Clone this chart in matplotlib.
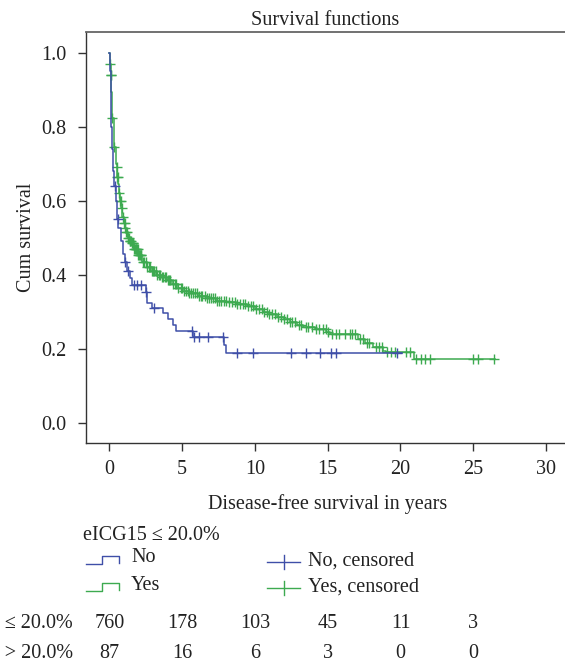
import numpy as np
import matplotlib.pyplot as plt
import matplotlib.transforms as mtransforms
from matplotlib.lines import Line2D

plt.rcParams['font.family'] = ['Liberation Serif', 'DejaVu Serif']
plt.rcParams['font.size'] = 14.5
FS = 14.5

# Kaplan-Meier steps (time in years, survival after the step)
no_times = [0, 0.05, 0.1, 0.15, 0.2, 0.28, 0.35, 0.45, 0.55, 0.62, 0.8, 0.95, 1.05,
            1.25, 1.4, 1.55, 2.5, 2.6, 2.9, 3.7, 4.0, 4.4, 4.6, 5.75, 7.85, 8.0, 20.1]
no_surv = [1.0, 0.95, 0.88, 0.80, 0.74, 0.68, 0.64, 0.60, 0.55, 0.526, 0.49, 0.455, 0.434,
           0.41, 0.39, 0.372, 0.353, 0.323, 0.31, 0.296, 0.28, 0.264, 0.248, 0.232, 0.21,
           0.1875, 0.1875]
no_censored = [0.38, 0.6, 1.1, 1.27, 1.68, 1.9, 2.2, 2.55, 3.1, 5.7, 5.8, 6.15, 6.75, 7.8,
               8.8, 9.9, 12.5, 13.5, 14.5, 15.2, 15.55, 19.75]

yes_times = [0, 0.03, 0.06, 0.1, 0.15, 0.22, 0.33, 0.45, 0.5, 0.55, 0.62, 0.68, 0.75, 0.82,
             0.9, 1.0, 1.1, 1.18, 1.3, 1.4, 1.52, 1.7, 1.97, 2.25, 2.56, 2.9, 3.24, 3.6,
             3.93, 4.3, 4.7, 5.1, 5.5, 6.1, 6.68, 7.3, 8.05, 8.7, 9.43, 10.0, 10.55, 11.0,
             11.5, 12.0, 12.4, 12.9, 13.3, 14.1, 14.9, 15.15, 17.1, 17.56, 18.1, 18.8,
             19.0, 20.95, 26.5]
yes_surv = [1.0, 0.985, 0.97, 0.94, 0.895, 0.824, 0.746, 0.70, 0.69, 0.665, 0.645, 0.62,
            0.60, 0.58, 0.556, 0.54, 0.525, 0.515, 0.50, 0.49, 0.485, 0.47, 0.453, 0.435,
            0.42, 0.41, 0.40, 0.393, 0.386, 0.375, 0.364, 0.357, 0.35, 0.343, 0.337, 0.33,
            0.325, 0.32, 0.314, 0.307, 0.30, 0.293, 0.285, 0.279, 0.273, 0.265, 0.258,
            0.252, 0.246, 0.24, 0.226, 0.215, 0.205, 0.195, 0.192, 0.171, 0.171]
yes_censored = [0.08, 0.1, 0.14, 0.22, 0.33, 0.5, 0.55, 0.6, 0.68, 0.75, 0.8, 0.88, 0.95,
                1.0, 1.05, 1.1, 1.18, 1.25, 1.3, 1.34, 1.4, 1.45, 1.5, 1.55, 1.6, 1.65, 1.7,
                1.75, 1.8, 1.85, 1.9, 1.95, 2.0, 2.05, 2.1, 2.15, 2.2, 2.3, 2.4, 2.5, 2.6,
                2.7, 2.8, 2.9, 3.0, 3.1, 3.2, 3.3, 3.4, 3.5, 3.6, 3.7, 3.8, 3.9, 4.0, 4.1,
                4.2, 4.35, 4.5, 4.6, 4.75, 4.9, 5.0, 5.1, 5.25, 5.4, 5.5, 5.6, 5.75, 5.9,
                6.0, 6.15, 6.3, 6.4, 6.55, 6.7, 6.85, 7.0, 7.1, 7.25, 7.4, 7.55, 7.7, 7.85,
                8.0, 8.2, 8.4, 8.6, 8.8, 9.0, 9.15, 9.35, 9.5, 9.7, 9.9, 10.1, 10.3, 10.5,
                10.65, 10.85, 11.0, 11.2, 11.4, 11.6, 11.8, 12.0, 12.2, 12.4, 12.55, 12.75,
                13.0, 13.2, 13.5, 13.65, 13.9, 14.2, 14.4, 14.7, 14.85, 15.0, 15.3, 15.6,
                15.8, 16.2, 16.5, 16.7, 16.85, 17.2, 17.4, 17.7, 17.85, 18.3, 18.5, 18.7,
                19.05, 19.35, 19.6, 20.4, 20.65, 21.1, 21.4, 21.7, 22.03, 25.0, 25.35, 26.4]

# numbers at risk
risk_times = [0, 5, 10, 15, 20, 25]
risk_low = [760, 178, 103, 45, 11, 3]
risk_high = [87, 16, 6, 3, 0, 0]
risk_labels = ['eICG15 \u2264 20.0%', 'eICG15 > 20.0%']

blue = '#3F4FA8'
green = '#3DAA50'
txt = '#222222'

W, H = 565, 665
fig = plt.figure(figsize=(W / 100, H / 100), dpi=100)
ax = fig.add_axes([86 / W, 1 - 443 / H, (W - 86) / W, (443 - 32) / H])


def surv_at(times, surv, t):
    idx = np.searchsorted(times, t, side='right') - 1
    return np.asarray(surv)[idx]


for times, surv, cens, col in [(yes_times, yes_surv, yes_censored, green),
                               (no_times, no_surv, no_censored, blue)]:
    ax.step(times, surv, where='post', color=col, lw=1.1)
    ax.plot(cens, surv_at(times, surv, cens), ls='none', marker='+', ms=7,
            mew=1.0, color=col)

ax.set_xlim(-1.6, 31.3)
ax.set_ylim(-0.055, 1.056)
ax.set_xticks(range(0, 31, 5))
ax.set_yticks(np.arange(0, 1.01, 0.2))
ax.set_yticklabels([f'{v:.1f}' for v in np.arange(0, 1.01, 0.2)])
ax.tick_params(direction='out', length=6, width=1, color='#333333', pad=6,
               labelsize=FS, labelcolor=txt)
ax.tick_params(axis='y', pad=8)
ax.spines['right'].set_visible(False)
ax.spines['top'].set_color('#666666')
ax.spines['top'].set_linewidth(1.3)
for s in ['left', 'bottom']:
    ax.spines[s].set_color('#333333')
    ax.spines[s].set_linewidth(1.0)

ax.set_title('Survival functions', fontsize=FS, pad=5, color=txt)
ax.set_xlabel('Disease-free survival in years', fontsize=FS, color=txt)
ax.xaxis.set_label_coords(0.505, -0.125)
ax.set_ylabel('Cum survival', fontsize=FS, color=txt)
ax.yaxis.set_label_coords(-0.105, 0.5)


def fx(px):
    return px / W


def fy(py):
    return 1 - py / H


# legend
fig.text(fx(83), fy(536), 'eICG15 \u2264 20.0%', fontsize=FS, va='center', color=txt)
for ylow, col, lab in [(564, blue, 'No'), (591, green, 'Yes')]:
    xs = [86, 102, 102, 119, 119]
    ys = [ylow, ylow, ylow - 8.5, ylow - 8.5, ylow - 1]
    fig.add_artist(Line2D([fx(v) for v in xs], [fy(v) for v in ys], color=col, lw=1.0,
                          transform=fig.transFigure))
    fig.text(fx(131), fy(ylow - 6), lab, fontsize=FS, va='center', color=txt)

for yc, col, lab in [(562, blue, 'No, censored'), (588, green, 'Yes, censored')]:
    fig.add_artist(Line2D([fx(267), fx(300)], [fy(yc), fy(yc)], color=col, lw=1.0,
                          transform=fig.transFigure))
    fig.add_artist(Line2D([fx(283.5), fx(283.5)], [fy(yc - 7), fy(yc + 7)], color=col,
                          lw=1.0, transform=fig.transFigure))
    fig.text(fx(308), fy(yc - 1), lab, fontsize=FS, va='center', color=txt)

# numbers at risk table (row labels run off the left edge, as in the source)
trans = mtransforms.blended_transform_factory(ax.transData, fig.transFigure)
for row_y, vals, lab in [(623, risk_low, risk_labels[0]), (653, risk_high, risk_labels[1])]:
    fig.text(fx(73), fy(row_y), lab, fontsize=FS, ha='right', va='center', color=txt)
    for t, v in zip(risk_times, vals):
        ax.text(t, fy(row_y), str(v), transform=trans, fontsize=FS, ha='center',
                va='center', color=txt, clip_on=False)

fig.savefig('out.png', dpi=100)
